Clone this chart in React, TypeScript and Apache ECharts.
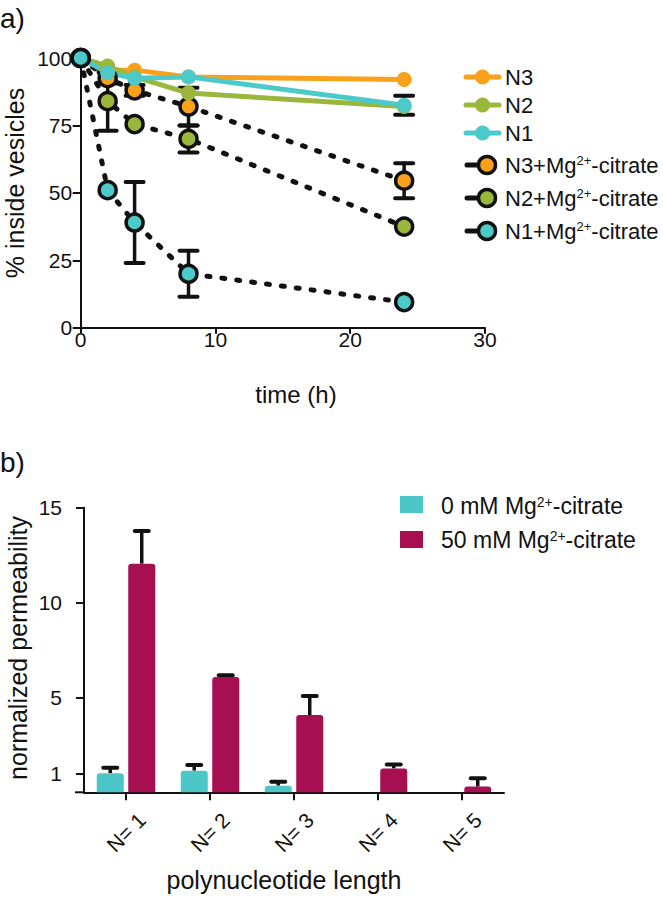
import React, { useEffect, useRef } from 'react';
import * as echarts from 'echarts';

// ---------- Panel a) data ----------
const times = [0, 2, 4, 8, 24];
const n3 = [100, 95.5, 95.5, 93, 92];
const n2 = [100, 97, 93, 87, 82];
const n1 = [100, 94.5, 92.5, 93, 82.5];
const n1Err = [0, 0, 0, 0, 3.5];
const n3Mg = [100, 92.5, 88, 82, 54.5];
const n3MgErr = [0, 2, 2, 7, 6.5];
const n2Mg = [100, 84, 75.5, 70, 37.5];
const n2MgErr = [0, 11, 0, 5, 0];
const n1Mg = [100, 51, 39, 20, 9.5];
const n1MgErr = [0, 0, 15, 8.5, 0];
const xTicksA = [0, 10, 20, 30];
const yTicksA = [0, 25, 50, 75, 100];

// ---------- Panel b) data ----------
const lengths = ['N= 1', 'N= 2', 'N= 3', 'N= 4', 'N= 5'];
const perm0 = [1.0, 1.14, 0.35, 0, 0];
const perm0Err = [0.3, 0.3, 0.21, 0, 0];
const perm50 = [12.05, 6.08, 4.07, 1.26, 0.3];
const perm50Err = [1.72, 0.09, 1.0, 0.21, 0.44];
const yTicksB = [1, 5, 10, 15];

const seriesNames = ['N3', 'N2', 'N1', 'N3+Mg{sup|2+}-citrate', 'N2+Mg{sup|2+}-citrate', 'N1+Mg{sup|2+}-citrate'];
const barNames = ['0 mM Mg{sup|2+}-citrate', '50 mM Mg{sup|2+}-citrate'];

const ORANGE = '#F9A11B';
const GREEN = '#9BB73B';
const CYAN = '#4CC9C9';
const BAR_CYAN = '#4CC6C6';
const MAGENTA = '#A60F50';
const INK = '#111111';
const FONT = 'Liberation Sans, Arial, Helvetica, sans-serif';

const BAR_W = 27;
const BAR_GAP_PX = 4.5;

function plain(name: string) {
  return name.replace('{sup|2+}', '²⁺');
}

export default function App() {
  const ref = useRef<HTMLDivElement>(null);

  useEffect(() => {
    if (!ref.current) return;
    const chart = echarts.init(ref.current, undefined, { renderer: 'svg' });

    const pairs = (ys: number[]) => times.map((t, i) => [t, ys[i]]);
    const errData = (ys: number[], es: number[]) =>
      times.map((t, i) => [t, ys[i] - es[i], ys[i] + es[i]]).filter((_, i) => es[i] > 0);

    const errRender = (params: any, api: any) => {
      const x = api.value(0);
      const lo = api.coord([x, api.value(1)]);
      const hi = api.coord([x, api.value(2)]);
      const hw = 9;
      const st = { stroke: INK, lineWidth: 3.5, lineCap: 'round' };
      return {
        type: 'group',
        children: [
          { type: 'line', shape: { x1: lo[0], y1: lo[1], x2: hi[0], y2: hi[1] }, style: st },
          { type: 'line', shape: { x1: hi[0] - hw, y1: hi[1], x2: hi[0] + hw, y2: hi[1] }, style: { ...st, lineWidth: 4 } },
          { type: 'line', shape: { x1: lo[0] - hw, y1: lo[1], x2: lo[0] + hw, y2: lo[1] }, style: { ...st, lineWidth: 4 } },
        ],
      };
    };

    const barErrRender = (side: number) => (params: any, api: any) => {
      const c = api.value(0);
      const p0 = api.coord([c, api.value(1)]);
      const p1 = api.coord([c, api.value(2)]);
      const x = p0[0] + side * (BAR_W + BAR_GAP_PX) / 2;
      const hw = 7;
      return {
        type: 'group',
        children: [
          { type: 'line', shape: { x1: x, y1: p0[1], x2: x, y2: p1[1] }, style: { stroke: INK, lineWidth: 3.5 } },
          { type: 'line', shape: { x1: x - hw, y1: p1[1], x2: x + hw, y2: p1[1] }, style: { stroke: INK, lineWidth: 4, lineCap: 'round' } },
        ],
      };
    };

    const mgLine = (name: string, ys: number[], color: string) => ({
      type: 'line',
      name: plain(name),
      xAxisIndex: 0,
      yAxisIndex: 0,
      data: pairs(ys),
      symbol: 'circle',
      symbolSize: 17,
      itemStyle: { color, borderColor: INK, borderWidth: 3.5 },
      lineStyle: { color: INK, width: 5, type: [3, 12], cap: 'round' },
      z: 3,
    });
    const solidLine = (name: string, ys: number[], color: string) => ({
      type: 'line',
      name,
      xAxisIndex: 0,
      yAxisIndex: 0,
      data: pairs(ys),
      symbol: 'circle',
      symbolSize: 15,
      itemStyle: { color },
      lineStyle: { color, width: 5, cap: 'round', join: 'round' },
      z: 3,
    });

    const errSeries = (ys: number[], es: number[]) => ({
      type: 'custom',
      xAxisIndex: 0,
      yAxisIndex: 0,
      data: errData(ys, es),
      encode: { x: 0, y: [1, 2] },
      renderItem: errRender,
      z: 2,
      silent: true,
    });

    const barErr = (vals: number[], errs: number[], side: number) => ({
      type: 'custom',
      xAxisIndex: 1,
      yAxisIndex: 1,
      data: vals.map((v, i) => [i, v, v + errs[i]]).filter((_, i) => errs[i] > 0),
      encode: { x: 0, y: [1, 2] },
      renderItem: barErrRender(side),
      z: 1,
      silent: true,
    });

    const axisLine = { show: true, lineStyle: { color: INK, width: 2 } };
    const label = { color: INK, fontFamily: FONT, fontSize: 21 };

    // legend graphics for panel a
    const legendRows = [
      { name: seriesNames[0], color: ORANGE, mg: false, y: 77 },
      { name: seriesNames[1], color: GREEN, mg: false, y: 105 },
      { name: seriesNames[2], color: CYAN, mg: false, y: 133 },
      { name: seriesNames[3], color: ORANGE, mg: true, y: 165 },
      { name: seriesNames[4], color: GREEN, mg: true, y: 198 },
      { name: seriesNames[5], color: CYAN, mg: true, y: 231 },
    ];
    const sup = { sup: { fontSize: 13, verticalAlign: 'top', fontFamily: FONT, fill: INK } };
    const legendA: any[] = [];
    legendRows.forEach((r) => {
      if (!r.mg) {
        legendA.push({ type: 'line', shape: { x1: 466, y1: r.y, x2: 499, y2: r.y }, style: { stroke: r.color, lineWidth: 5, lineCap: 'round' } });
        legendA.push({ type: 'circle', shape: { cx: 482.5, cy: r.y, r: 7.5 }, style: { fill: r.color } });
      } else {
        legendA.push({ type: 'line', shape: { x1: 467, y1: r.y, x2: 480, y2: r.y }, style: { stroke: INK, lineWidth: 5, lineCap: 'round' } });
        legendA.push({ type: 'circle', shape: { cx: 487, cy: r.y, r: 8.5 }, style: { fill: r.color, stroke: INK, lineWidth: 3.5 } });
      }
      legendA.push({
        type: 'text',
        x: 505,
        y: r.y,
        style: { text: r.name, fontSize: 22, fontFamily: FONT, fill: INK, verticalAlign: 'middle', align: 'left', rich: sup },
      });
    });

    const supB = { sup: { fontSize: 14, verticalAlign: 'top', fontFamily: FONT, fill: INK } };
    const legendB: any[] = [
      { type: 'rect', shape: { x: 400, y: 496, width: 23, height: 17 }, style: { fill: BAR_CYAN } },
      { type: 'rect', shape: { x: 400, y: 531, width: 23, height: 17 }, style: { fill: MAGENTA } },
      { type: 'text', x: 441, y: 506, style: { text: barNames[0], fontSize: 23, fontFamily: FONT, fill: INK, verticalAlign: 'middle', rich: supB } },
      { type: 'text', x: 441, y: 540, style: { text: barNames[1], fontSize: 23, fontFamily: FONT, fill: INK, verticalAlign: 'middle', rich: supB } },
    ];

    const option: any = {
      animation: false,
      backgroundColor: '#ffffff',
      grid: [
        { left: 80.7, top: 58, width: 404.3, height: 269.7 },
        { left: 84, top: 507.7, width: 420, height: 284.6 },
      ],
      xAxis: [
        {
          type: 'value',
          gridIndex: 0,
          min: xTicksA[0],
          max: xTicksA[xTicksA.length - 1],
          interval: 10,
          axisLine,
          axisTick: { show: true, length: 6, lineStyle: { color: INK, width: 2 } },
          axisLabel: { ...label, margin: 1 },
          splitLine: { show: false },
        },
        {
          type: 'category',
          gridIndex: 1,
          data: lengths,
          axisLine,
          axisTick: { show: true, length: 8, alignWithLabel: true, lineStyle: { color: INK, width: 2 } },
          axisLabel: { ...label, rotate: 45, margin: 40, align: 'center', verticalAlign: 'middle', interval: 0 },
        },
      ],
      yAxis: [
        {
          type: 'value',
          gridIndex: 0,
          min: yTicksA[0],
          max: yTicksA[yTicksA.length - 1],
          interval: 25,
          axisLine,
          axisTick: { show: true, length: 8, lineStyle: { color: INK, width: 2 } },
          axisLabel: { ...label, margin: 8.5 },
          splitLine: { show: false },
        },
        {
          type: 'value',
          gridIndex: 1,
          min: 0,
          max: 15,
          interval: 1,
          axisLine,
          axisTick: { show: true, length: 8, customValues: yTicksB, lineStyle: { color: INK, width: 2 } },
          axisLabel: { ...label, margin: 22, customValues: yTicksB },
          splitLine: { show: false },
        },
      ],
      series: [
        errSeries(n3Mg, n3MgErr),
        errSeries(n2Mg, n2MgErr),
        errSeries(n1Mg, n1MgErr),
        errSeries(n1, n1Err),
        mgLine(seriesNames[3], n3Mg, ORANGE),
        mgLine(seriesNames[4], n2Mg, GREEN),
        solidLine(seriesNames[0], n3, ORANGE),
        solidLine(seriesNames[1], n2, GREEN),
        solidLine(seriesNames[2], n1, CYAN),
        mgLine(seriesNames[5], n1Mg, CYAN),
        {
          type: 'bar',
          name: plain(barNames[0]),
          xAxisIndex: 1,
          yAxisIndex: 1,
          data: perm0,
          barWidth: BAR_W,
          barGap: `${(BAR_GAP_PX / BAR_W) * 100}%`,
          itemStyle: { color: BAR_CYAN, borderRadius: [3, 3, 0, 0] },
          z: 2,
        },
        {
          type: 'bar',
          name: plain(barNames[1]),
          xAxisIndex: 1,
          yAxisIndex: 1,
          data: perm50,
          barWidth: BAR_W,
          itemStyle: { color: MAGENTA, borderRadius: [3, 3, 0, 0] },
          z: 2,
        },
        barErr(perm0, perm0Err, -1),
        barErr(perm50, perm50Err, 1),
      ],
      graphic: [
        { type: 'text', x: 0, y: 18, style: { text: 'a)', fontSize: 28, fontFamily: FONT, fill: INK, verticalAlign: 'middle' } },
        { type: 'text', x: 0, y: 462, style: { text: 'b)', fontSize: 28, fontFamily: FONT, fill: INK, verticalAlign: 'middle' } },
        {
          type: 'text', x: 15, y: 183, rotation: Math.PI / 2,
          style: { text: '% inside vesicles', fontSize: 25, fontFamily: FONT, fill: INK, align: 'center', verticalAlign: 'middle' },
        },
        { type: 'text', x: 296, y: 394, style: { text: 'time (h)', fontSize: 24, fontFamily: FONT, fill: INK, align: 'center', verticalAlign: 'middle' } },
        {
          type: 'text', x: 18, y: 648, rotation: Math.PI / 2,
          style: { text: 'normalized permeability', fontSize: 25, fontFamily: FONT, fill: INK, align: 'center', verticalAlign: 'middle' },
        },
        { type: 'text', x: 284, y: 880, style: { text: 'polynucleotide length', fontSize: 25, fontFamily: FONT, fill: INK, align: 'center', verticalAlign: 'middle' } },
        { type: 'line', shape: { x1: 75, y1: 792.3, x2: 85, y2: 792.3 }, style: { stroke: INK, lineWidth: 2 } },
        ...legendA,
        ...legendB,
      ],
    };

    chart.setOption(option);
    return () => chart.dispose();
  }, []);

  return <div ref={ref} style={{ position: 'absolute', left: 0, top: 0, width: 663, height: 900 }} />;
}
